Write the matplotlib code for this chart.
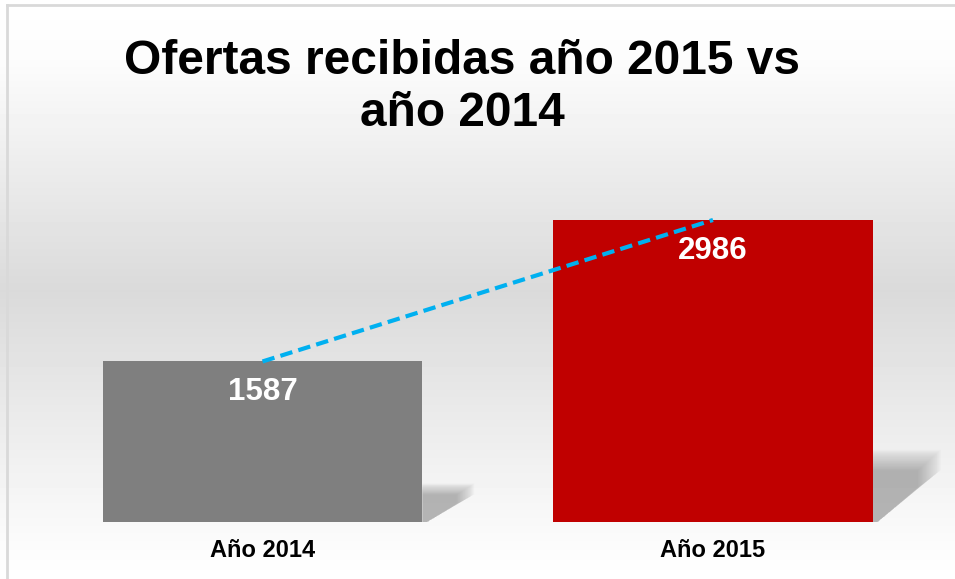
import numpy as np
import matplotlib.pyplot as plt
from matplotlib.patches import Polygon

plt.rcParams['font.family'] = ['Liberation Sans', 'DejaVu Sans']

# data
categories = ['Año 2014', 'Año 2015']
ofertas = [1587, 2986]
bar_colors = ['#7f7f7f', '#c00000']
title = 'Ofertas recibidas año 2015 vs\naño 2014'

W, H = 955, 579
fig = plt.figure(figsize=(W / 100, H / 100), dpi=100)

# background gradient (white -> light gray -> white)
bg = fig.add_axes([0, 0, 1, 1], zorder=0)
rows = np.arange(H)
shade = np.interp(rows, [0, 60, 290, 540, H], [255, 252, 218, 251, 255]) / 255.0
img = np.repeat(shade[:, None], 10, axis=1)
bg.imshow(img, cmap='gray', vmin=0, vmax=1, aspect='auto', extent=[0, W, H, 0])
bg.plot([7, W], [5, 5], color='#d9d9d9', lw=2)
bg.plot([7, 7], [5, H], color='#d9d9d9', lw=2)
bg.set_xlim(0, W)
bg.set_ylim(H, 0)
bg.axis('off')

# main chart
ax = fig.add_axes([10 / W, 57 / H, 935 / W, 352 / H], zorder=1)
ax.patch.set_alpha(0)
x = np.arange(len(categories))
width = 0.71

# soft shadows behind the bars (bottom right)
n_layers = 30
for xi, v in zip(x, ofertas):
    xr = xi + width / 2
    sh = v * 0.24
    sw = 0.075 + 0.0000255 * v
    for k in range(n_layers):
        f = 1 - k * 0.35 / n_layers
        top = sh * (1 - k * 0.3 / n_layers)
        pts = [(xr, 0), (xr, top), (xr + sw * f, top),
               (xr + sw * f, sh * 0.72 * f), (xr + 0.01, 0)]
        ax.add_patch(Polygon(pts, closed=True, facecolor='#7a7a7a',
                             edgecolor='none', alpha=0.018, zorder=1))

bars = ax.bar(x, ofertas, width, color=bar_colors, zorder=2)

# linear trend line between the two years
coef = np.polyfit(x, ofertas, 1)
ax.plot(x, np.polyval(coef, x), color='#00b0f0', lw=3, ls=(0, (3, 1.5)), zorder=3)

for xi, v in zip(x, ofertas):
    ax.annotate(str(v), (xi, v), xytext=(0, -22), textcoords='offset points',
                ha='center', va='center', color='white', fontsize=22.5,
                fontweight='bold', zorder=4)

ax.set_xlim(-0.5605, 1.515)
ax.set_ylim(0, 3480)
ax.set_xticks(x)
ax.set_xticklabels(categories, fontsize=17, fontweight='bold')
ax.tick_params(axis='x', length=0, pad=12)
ax.set_yticks([])
for s in ax.spines.values():
    s.set_visible(False)

fig.text(462 / W, 1 - 88 / H, title, ha='center', va='center', fontsize=34.5,
         fontweight='bold', linespacing=1.2)

fig.savefig('out.png', dpi=100)
